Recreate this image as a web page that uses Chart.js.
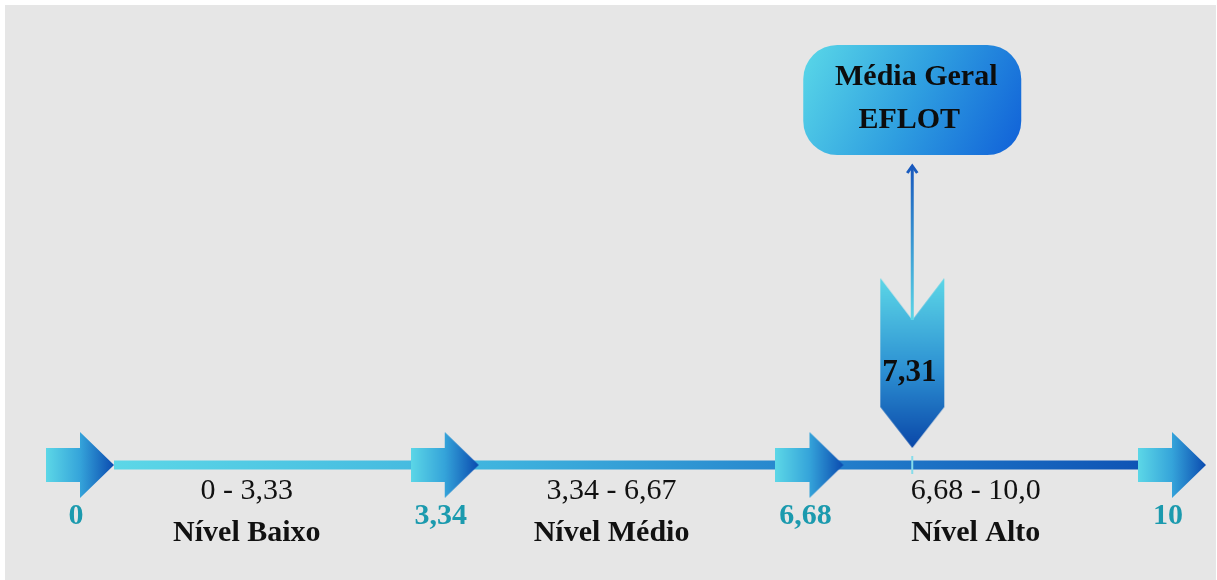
<!DOCTYPE html>
<html lang="pt">
<head>
<meta charset="utf-8">
<title>Média Geral EFLOT</title>
<script src="https://cdn.jsdelivr.net/npm/chart.js@4.4.1/dist/chart.umd.min.js"></script>
<style>
  html, body { margin: 0; padding: 0; background: #ffffff; }
  #scale { display: block; }
</style>
</head>
<body>
<canvas id="scale" width="1217" height="580"></canvas>
<script>
// =========================
// Data
// =========================

const boundaries = [0, 3.34, 6.68, 10];
const boundaryLabels = ["0", "3,34", "6,68", "10"];

const rangeStarts = [0, 3.34, 6.68];
const rangeEnds = [3.33, 6.67, 10];
const rangeLabels = ["0 - 3,33", "3,34 - 6,67", "6,68 - 10,0"];
const levelNames = ["Nível Baixo", "Nível Médio", "Nível Alto"];

const meanValue = 7.31;
const meanLabel = "7,31";
const calloutLines = ["Média Geral", "EFLOT"];

// =========================
// Styles
// =========================

const CYAN = "#5cd7e7";
const DEEP = "#0b4bb0";
const TEAL = "#1b9aae";
const SERIF = "'Liberation Serif', 'Times New Roman', serif";

// block arrow sprite, tip sits at the centre of the canvas
function makeBlockArrow() {
    const c = document.createElement("canvas");
    c.width = 136;
    c.height = 66;
    const g = c.getContext("2d");
    const grad = g.createLinearGradient(0, 0, 68, 0);
    grad.addColorStop(0, CYAN);
    grad.addColorStop(0.5, "#35a4da");
    grad.addColorStop(1, DEEP);
    g.fillStyle = grad;
    g.beginPath();
    g.moveTo(0, 16);
    g.lineTo(34, 16);
    g.lineTo(34, 0);
    g.lineTo(68, 33);
    g.lineTo(34, 66);
    g.lineTo(34, 50);
    g.lineTo(0, 50);
    g.closePath();
    g.fill();
    return c;
}

// down chevron sprite, canvas centre = point on the line (tip floats 17px above)
function makeChevron() {
    const c = document.createElement("canvas");
    c.width = 66;
    c.height = 374;
    const g = c.getContext("2d");
    const grad = g.createLinearGradient(0, 0, 0, 170);
    grad.addColorStop(0, CYAN);
    grad.addColorStop(0.55, "#2c8fd2");
    grad.addColorStop(1, "#0a47a8");
    g.fillStyle = grad;
    g.beginPath();
    g.moveTo(1, 0);
    g.lineTo(33, 42);
    g.lineTo(65, 0);
    g.lineTo(65, 129);
    g.lineTo(33, 170);
    g.lineTo(1, 129);
    g.closePath();
    g.fill();
    return c;
}

// =========================
// Plugins
// =========================

const panelPlugin = {
    id: "panel",
    beforeDraw(chart) {
        const ctx = chart.ctx;
        ctx.save();
        ctx.fillStyle = "#e6e6e6";
        ctx.fillRect(5, 5, chart.width - 6, chart.height - 5);
        ctx.restore();
    }
};

const labelsPlugin = {
    id: "labels",
    afterDatasetsDraw(chart) {
        const ctx = chart.ctx;
        const x = chart.scales.x;
        const lineY = chart.scales.y.getPixelForValue(0);

        ctx.save();
        ctx.textAlign = "center";
        ctx.textBaseline = "alphabetic";

        // boundary numbers
        ctx.fillStyle = TEAL;
        ctx.font = "bold 30px " + SERIF;
        boundaries.forEach((v, i) => {
            ctx.fillText(boundaryLabels[i], x.getPixelForValue(v) - 38, lineY + 59);
        });

        // range texts and level names
        rangeLabels.forEach((label, i) => {
            const cx = x.getPixelForValue((rangeStarts[i] + rangeEnds[i]) / 2) - 49;
            ctx.fillStyle = "#111111";
            ctx.font = "30px " + SERIF;
            ctx.fillText(label, cx, lineY + 34);
            ctx.font = "bold 30px " + SERIF;
            ctx.fillText(levelNames[i], cx, lineY + 76);
        });

        // mean marker
        const mx = x.getPixelForValue(meanValue);

        ctx.strokeStyle = "#86dcea";
        ctx.lineWidth = 2;
        ctx.beginPath();
        ctx.moveTo(mx, lineY - 9);
        ctx.lineTo(mx, lineY + 9);
        ctx.stroke();

        ctx.fillStyle = "#0d0d0d";
        ctx.font = "bold 31px " + SERIF;
        ctx.fillText(meanLabel, mx - 3, lineY - 84);

        // thin pointer arrow up to the callout
        const top = lineY - 300;
        const grad = ctx.createLinearGradient(0, lineY - 145, 0, top);
        grad.addColorStop(0, CYAN);
        grad.addColorStop(1, "#1757bd");
        ctx.strokeStyle = grad;
        ctx.lineWidth = 3;
        ctx.beginPath();
        ctx.moveTo(mx, lineY - 145);
        ctx.lineTo(mx, top + 1);
        ctx.stroke();
        ctx.lineJoin = "miter";
        ctx.beginPath();
        ctx.moveTo(mx - 5, top + 8);
        ctx.lineTo(mx, top + 1);
        ctx.lineTo(mx + 5, top + 8);
        ctx.stroke();

        // callout box
        const bx = mx - 109, by = lineY - 420, bw = 218, bh = 110;
        const bgrad = ctx.createLinearGradient(bx, by, bx + bw, by + bh);
        bgrad.addColorStop(0, "#5ad8e8");
        bgrad.addColorStop(0.5, "#2f9fe0");
        bgrad.addColorStop(1, "#1060d8");
        ctx.fillStyle = bgrad;
        ctx.beginPath();
        ctx.roundRect(bx, by, bw, bh, 34);
        ctx.fill();

        ctx.fillStyle = "#0d0d0d";
        ctx.font = "bold 30px " + SERIF;
        ctx.fillText(calloutLines[0], mx + 4, lineY - 380);
        ctx.fillText(calloutLines[1], mx - 3, lineY - 337);

        ctx.restore();
    }
};

// =========================
// Chart
// =========================

const scaleCtx = document.getElementById("scale");

new Chart(scaleCtx, {
    type: "scatter",
    data: {
        datasets: [
            {
                type: "line",
                data: [{ x: boundaries[0], y: 0 }, { x: boundaries[boundaries.length - 1], y: 0 }],
                borderColor: (c) => {
                    const area = c.chart.chartArea;
                    if (!area) return CYAN;
                    const g = c.chart.ctx.createLinearGradient(area.left, 0, area.right, 0);
                    g.addColorStop(0, CYAN);
                    g.addColorStop(0.35, "#3fb3de");
                    g.addColorStop(0.7, "#1f78c8");
                    g.addColorStop(1, DEEP);
                    return g;
                },
                borderWidth: 9,
                pointRadius: 0,
                showLine: true,
                // stop the bar inside the last arrow so it does not poke past the tip
                clip: { left: 0, top: 20, right: -30, bottom: 20 },
                order: 3
            },
            {
                data: boundaries.map(v => ({ x: v, y: 0 })),
                pointStyle: makeBlockArrow(),
                pointRadius: 10,
                clip: false,
                order: 1
            },
            {
                data: [{ x: meanValue, y: 0 }],
                pointStyle: makeChevron(),
                pointRadius: 10,
                clip: false,
                order: 0
            }
        ]
    },
    options: {
        responsive: false,
        animation: false,
        events: [],
        layout: {
            padding: { left: 114, right: 9, top: 20, bottom: 115 }
        },
        scales: {
            x: { type: "linear", min: 0, max: 10, display: false },
            y: { type: "linear", min: 0, max: 1, display: false }
        },
        plugins: {
            legend: { display: false },
            tooltip: { enabled: false }
        }
    },
    plugins: [panelPlugin, labelsPlugin]
});
</script>
</body>
</html>
